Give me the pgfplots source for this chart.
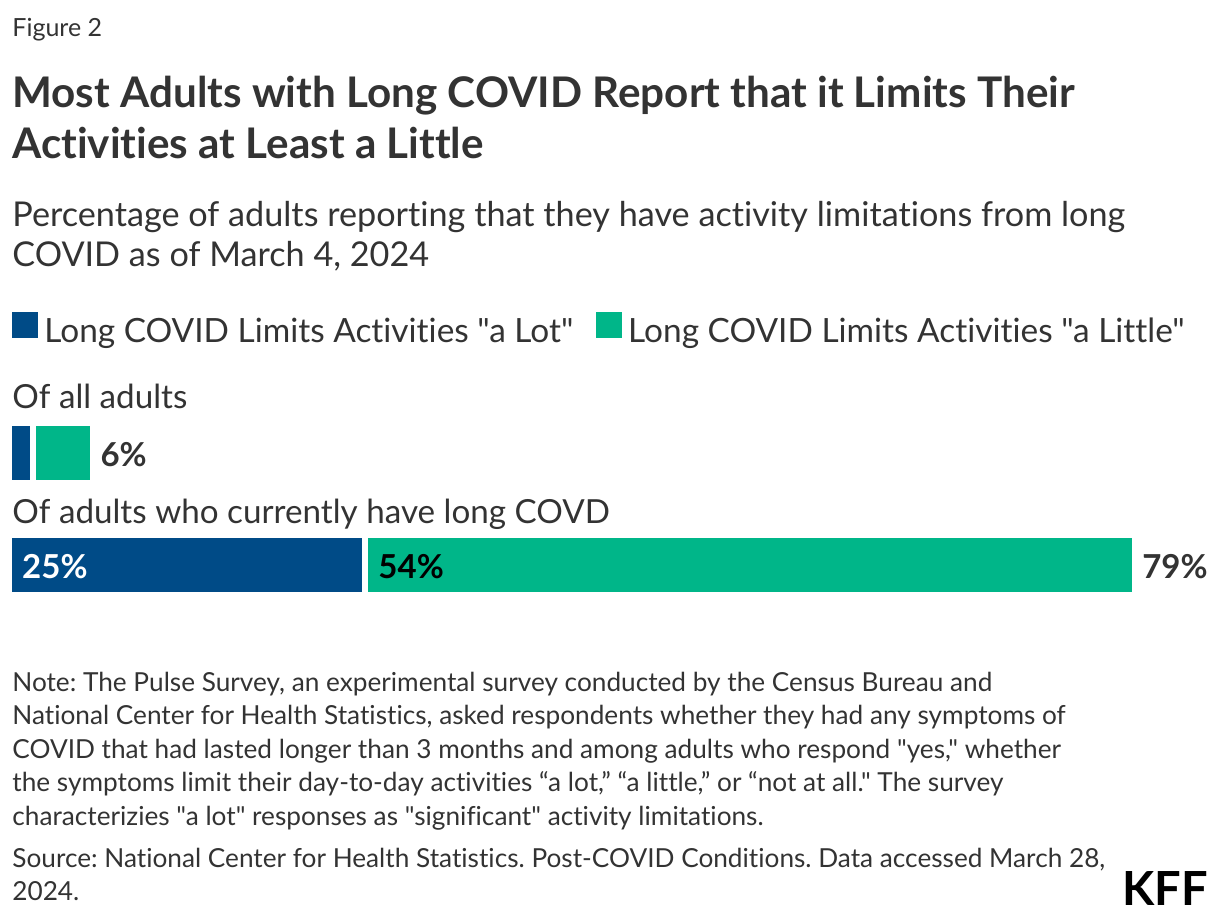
\documentclass[border=0pt]{standalone}
\usepackage{fontspec}
\setmainfont{Lato}[Ligatures={NoCommon,TeXOff}]
\usepackage{pgfplots}
\pgfplotsset{compat=1.18}
\definecolor{kffblue}{RGB}{0,75,135}
\definecolor{kffgreen}{RGB}{0,182,137}
\definecolor{txt}{RGB}{51,51,51}

\newcommand\fs[1]{\fontsize{#1bp}{#1bp}\selectfont}
\newcommand\dq{\symbol{34}}
\frenchspacing

\begin{document}
\begin{tikzpicture}
% text lines, placed in pixel units of the reference (y runs down)
\begin{scope}[x=0.5bp,y=-0.5bp]
\useasboundingbox (0,0) rectangle (1220,920);
\tikzset{lbl/.style={anchor=base west, inner sep=0pt, text=txt}}
\node[lbl, font=\fs{12.5}] at (12,36) {Figure 2};
\node[lbl, font=\fs{21.1}\bfseries] at (12,107) {Most Adults with Long COVID Report that it Limits Their};
\node[lbl, font=\fs{21.1}\bfseries] at (12,158) {Activities at Least a Little};
\node[lbl, font=\fs{17.1}] at (12,226) {Percentage of adults reporting that they have activity limitations from long};
\node[lbl, font=\fs{17.1}] at (12,266) {COVID as of March 4, 2024};
\node[lbl, font=\fs{16.6}] at (12,408) {Of all adults};
\node[lbl, font=\fs{16.6}] at (12,523) {Of adults who currently have long COVD};
\node[lbl, font=\fs{13.1}] at (12,691) {Note: The Pulse Survey, an experimental survey conducted by the Census Bureau and};
\node[lbl, font=\fs{13.1}] at (12,724.5) {National Center for Health Statistics, asked respondents whether they had any symptoms of};
\node[lbl, font=\fs{13.1}] at (12,758) {COVID that had lasted longer than 3 months and among adults who respond \dq yes,\dq{} whether};
\node[lbl, font=\fs{13.1}] at (12,791.5) {the symptoms limit their day-to-day activities “a lot,” “a little,” or “not at all.\dq{} The survey};
\node[lbl, font=\fs{13.1}] at (12,825) {characterizies \dq a lot\dq{} responses as \dq significant\dq{} activity limitations.};
\node[lbl, font=\fs{13.1}] at (12,867) {Source: National Center for Health Statistics. Post-COVID Conditions. Data accessed March 28,};
\node[lbl, font=\fs{13.1}] at (12,900) {2024.};
\node[anchor=base east, inner sep=0pt, text=black, font=\fs{23.5}\bfseries] at (1208,905) {KFF};
\end{scope}

\begin{axis}[
  at={(4.5bp,-310.5bp)}, anchor=south west,
  scale only axis, width=570bp, height=112bp,
  xmin=0, xmax=80, ymin=-0.5, ymax=1.5,
  hide axis, clip=false, set layers=standard,
  xbar stacked, bar width=30bp,
  legend image code/.code={\fill[#1,draw=none] (0bp,-3bp) rectangle (13bp,10bp);},
  legend style={at={(axis description cs:0.0026,1.304)}, anchor=west,
    draw=none, fill=none, inner sep=0pt,
    nodes={inner sep=0pt, text=txt, font=\fs{16.7}},
    /tikz/every odd column/.append style={column sep=3bp},
    /tikz/every even column/.append style={column sep=11.5bp}},
  legend columns=-1,
]
\addplot[fill=kffblue, draw=white, line width=3bp, on layer=axis background] coordinates {(25,0) (1.7,1)};
\addplot[fill=kffgreen, draw=white, line width=3bp, on layer=axis background] coordinates {(54,0) (4.2,1)};
\legend{Long COVID Limits Activities \dq a Lot\dq, Long COVID Limits Activities \dq a Little\dq}
% value labels
\node[anchor=base west, inner sep=0pt, text=white, font=\fs{16.5}\bfseries, yshift=-6.5bp] at (axis cs:0.9,0) {25\%};
\node[anchor=base west, inner sep=0pt, text=black, font=\fs{16.5}\bfseries, yshift=-6.5bp] at (axis cs:25.9,0) {54\%};
\node[anchor=base west, inner sep=0pt, text=txt, font=\fs{16.5}\bfseries, yshift=-6.5bp] at (axis cs:79.5,0) {79\%};
\node[anchor=base west, inner sep=0pt, text=txt, font=\fs{16.5}\bfseries, yshift=-6.5bp] at (axis cs:6.4,1) {6\%};
\end{axis}
\end{tikzpicture}
\end{document}
